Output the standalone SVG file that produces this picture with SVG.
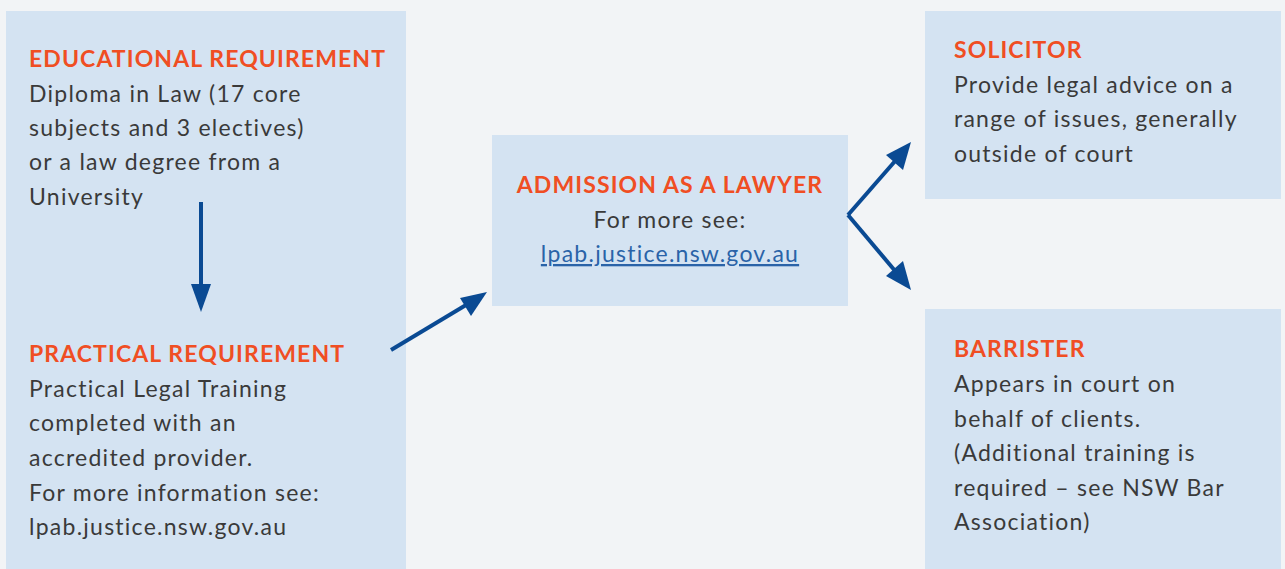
<svg xmlns="http://www.w3.org/2000/svg" width="1285" height="569" viewBox="0 0 1285 569">
<style>
.bg{fill:#f2f4f6}
.box{fill:#d4e3f2}
.t{font-family:Lato,"Open Sans",sans-serif;font-size:23px;font-weight:bold;fill:#f04e23;letter-spacing:1.1px}
.b{font-family:Lato,"Open Sans",sans-serif;font-size:23px;fill:#3a3a3a;letter-spacing:1.25px}
.l{fill:#2a63a8;text-decoration:underline}
.c{fill:none;stroke:#0a4a93;stroke-width:4}
.h{fill:#0a4a93}
</style>
<rect class="bg" x="0" y="0" width="1285" height="569"/>
<g id="educational">
<rect class="box" x="6" y="11" width="400" height="558"/>
<text class="t" x="29" y="67">EDUCATIONAL REQUIREMENT</text>
<text class="b" x="29" y="102">Diploma in Law (17 core</text>
<text class="b" x="29" y="136">subjects and 3 electives)</text>
<text class="b" x="29" y="170">or a law degree from a</text>
<text class="b" x="29" y="205">University</text>
</g>
<g id="practical">
<text class="t" x="29" y="362">PRACTICAL REQUIREMENT</text>
<text class="b" x="29" y="397">Practical Legal Training</text>
<text class="b" x="29" y="431">completed with an</text>
<text class="b" x="29" y="466">accredited provider.</text>
<text class="b" x="29" y="501">For more information see:</text>
<text class="b" x="29" y="535">lpab.justice.nsw.gov.au</text>
</g>
<g id="admission">
<rect class="box" x="492" y="135" width="356" height="171"/>
<text class="t" x="670" y="193" text-anchor="middle">ADMISSION AS A LAWYER</text>
<text class="b" x="670" y="228" text-anchor="middle">For more see:</text>
<text class="b l" x="670" y="262" text-anchor="middle">lpab.justice.nsw.gov.au</text>
</g>
<g id="solicitor">
<rect class="box" x="925" y="11" width="356" height="188"/>
<text class="t" x="954" y="58">SOLICITOR</text>
<text class="b" x="954" y="93">Provide legal advice on a</text>
<text class="b" x="954" y="127">range of issues, generally</text>
<text class="b" x="954" y="162">outside of court</text>
</g>
<g id="barrister">
<rect class="box" x="925" y="309" width="356" height="260"/>
<text class="t" x="954" y="357">BARRISTER</text>
<text class="b" x="954" y="392">Appears in court on</text>
<text class="b" x="954" y="427">behalf of clients.</text>
<text class="b" x="954" y="461">(Additional training is</text>
<text class="b" x="954" y="496">required – see NSW Bar</text>
<text class="b" x="954" y="530">Association)</text>
</g>
<g id="connectors">
<line class="c" x1="201" y1="202" x2="201" y2="288"/>
<polygon class="h" points="201,312 191,284 211,284"/>
<line class="c" x1="391" y1="350" x2="466" y2="305"/>
<polygon class="h" points="487,292 471,316 460,298"/>
<line class="c" x1="848" y1="215" x2="896" y2="160"/>
<polygon class="h" points="911,142 903,170 886,155"/>
<line class="c" x1="848" y1="215" x2="896" y2="272"/>
<polygon class="h" points="911,290 886,276 903,261"/>
</g>
</svg>
